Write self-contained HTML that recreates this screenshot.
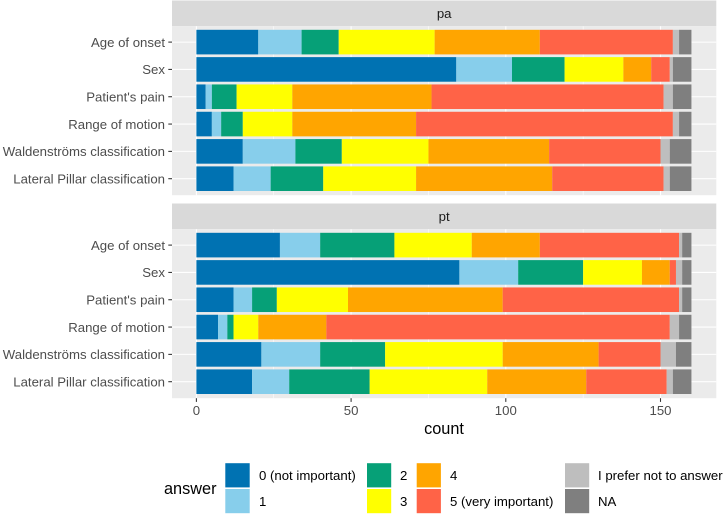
<!DOCTYPE html>
<html>
<head>
<meta charset="utf-8">
<title>Importance of answers by question</title>
<style>
html,body{margin:0;padding:0;background:#fff;width:724px;height:516px;overflow:hidden}
svg{display:block;font-family:"Liberation Sans",Arial,sans-serif}
</style>
</head>
<body>
<svg id="chart" width="724" height="516" viewBox="0 0 724 516" xmlns="http://www.w3.org/2000/svg">
  <g id="plot"></g>
  <text x="444" y="434" font-size="16.3" text-anchor="middle" fill="#000">count</text>
  <g>
    <text x="164" y="494" font-size="16.3" fill="#000">answer</text>
    <g id="legend-items">
      <rect x="225.3" y="463.2" width="24.4" height="24.2" fill="#0072B2"/>
      <text x="259" y="480" font-size="13.2" fill="#000">0 (not important)</text>
      <rect x="225.3" y="489" width="24.4" height="24.2" fill="#87CEEB"/>
      <text x="259" y="506" font-size="13.2" fill="#000">1</text>
      <rect x="367" y="463.2" width="24.2" height="24.2" fill="#06A077"/>
      <text x="400" y="480" font-size="13.2" fill="#000">2</text>
      <rect x="367" y="489" width="24.2" height="24.2" fill="#FFFF00"/>
      <text x="400" y="506" font-size="13.2" fill="#000">3</text>
      <rect x="416.7" y="463.2" width="24.2" height="24.2" fill="#FFA500"/>
      <text x="450" y="480" font-size="13.2" fill="#000">4</text>
      <rect x="416.7" y="489" width="24.2" height="24.2" fill="#FF6347"/>
      <text x="450" y="506" font-size="13.2" fill="#000">5 (very important)</text>
      <rect x="565" y="463.2" width="24.2" height="24.2" fill="#BEBEBE"/>
      <text x="598" y="480" font-size="13.2" fill="#000">I prefer not to answer</text>
      <rect x="565" y="489" width="24.2" height="24.2" fill="#7F7F7F"/>
      <text x="598" y="506" font-size="13.2" fill="#000">NA</text>
    </g>
  </g>
</svg>
<script>
var categories = ["Age of onset", "Sex", "Patient's pain", "Range of motion", "Waldenströms classification", "Lateral Pillar classification"];
var answers = ["0 (not important)", "1", "2", "3", "4", "5 (very important)", "I prefer not to answer", "NA"];
var answerColors = ["#0072B2", "#87CEEB", "#06A077", "#FFFF00", "#FFA500", "#FF6347", "#BEBEBE", "#7F7F7F"];
var facetNames = ["pa", "pt"];
var xTicks = [0, 50, 100, 150];
var xMinorTicks = [25, 75, 125];
var paCounts = [
  [20, 14, 12, 31, 34, 43, 2, 4],
  [84, 18, 17, 19, 9, 6, 1, 6],
  [3, 2, 8, 18, 45, 75, 3, 6],
  [5, 3, 7, 16, 40, 83, 2, 4],
  [15, 17, 15, 28, 39, 36, 3, 7],
  [12, 12, 17, 30, 44, 36, 2, 7]
];
var ptCounts = [
  [27, 13, 24, 25, 22, 45, 1, 3],
  [85, 19, 21, 19, 9, 2, 2, 3],
  [12, 6, 8, 23, 50, 57, 1, 3],
  [7, 3, 2, 8, 22, 111, 3, 4],
  [21, 19, 21, 38, 31, 20, 5, 5],
  [18, 12, 26, 38, 32, 26, 2, 6]
];
var facetCounts = [paCounts, ptCounts];

var SVGNS = "http://www.w3.org/2000/svg";
var plot = document.getElementById("plot");
var PANEL_LEFT = 172;
var PANEL_RIGHT = 716.3;
var STRIP_H = 25.7;
var PANEL_H = 169;
var FACET_STEP = 203;
var STRIP_TOP = 0.5;
var ROW_STEP = 27.32;
var BAR_H = 24.6;

function xScale(v) { return 196.4 + v * 3.094; }
function panelTop(f) { return STRIP_TOP + STRIP_H + f * FACET_STEP; }
function yScale(f, i) { return panelTop(f) + 15.9 + i * ROW_STEP; }

function make(tag, attrs, parent) {
  var el = document.createElementNS(SVGNS, tag);
  for (var k in attrs) { el.setAttribute(k, attrs[k]); }
  parent.appendChild(el);
  return el;
}

facetNames.forEach(function (name, f) {
  var top = panelTop(f);
  var bottom = top + PANEL_H;

  var strip = make("rect", {x: PANEL_LEFT, y: top - STRIP_H, width: PANEL_RIGHT - PANEL_LEFT, height: STRIP_H, fill: "#D9D9D9"}, plot);
  
  

  var stripText = make("text", {x: (PANEL_LEFT + PANEL_RIGHT) / 2, y: top - 8.4, "font-size": 13.2, "text-anchor": "middle", fill: "#1A1A1A"}, plot);
  stripText.textContent = name;
  
  

  var panel = make("rect", {x: PANEL_LEFT, y: top, width: PANEL_RIGHT - PANEL_LEFT, height: PANEL_H, fill: "#EBEBEB"}, plot);
  
  

  xMinorTicks.forEach(function (t) {
    var g = make("line", {x1: xScale(t), x2: xScale(t), y1: top, y2: bottom, stroke: "#fff", "stroke-width": 0.55}, plot);
    
    
  });
  xTicks.forEach(function (t) {
    var g = make("line", {x1: xScale(t), x2: xScale(t), y1: top, y2: bottom, stroke: "#fff", "stroke-width": 1.07}, plot);
    
    
  });

  categories.forEach(function (cat, i) {
    var y = yScale(f, i);
    var g = make("line", {x1: PANEL_LEFT, x2: PANEL_RIGHT, y1: y, y2: y, stroke: "#fff", "stroke-width": 1.07}, plot);
    
    

    var tick = make("line", {x1: PANEL_LEFT - 3.7, x2: PANEL_LEFT, y1: y, y2: y, stroke: "#333", "stroke-width": 1.07}, plot);
    
    

    var label = make("text", {x: PANEL_LEFT - 7, y: y + 4.7, "font-size": 13.2, "text-anchor": "end", fill: "#4D4D4D"}, plot);
    label.textContent = cat;
    
    
  });

  facetCounts[f].forEach(function (row, i) {
    var cum = 0;
    row.forEach(function (c, a) {
      var bar = make("rect", {x: xScale(cum), y: yScale(f, i) - BAR_H / 2, width: xScale(cum + c) - xScale(cum), height: BAR_H, fill: answerColors[a]}, plot);
      
      
      cum += c;
    });
  });
});

xTicks.forEach(function (t) {
  var base = panelTop(1) + PANEL_H;
  var tick = make("line", {x1: xScale(t), x2: xScale(t), y1: base, y2: base + 3.7, stroke: "#333", "stroke-width": 1.07}, plot);
  
  

  var label = make("text", {x: xScale(t), y: base + 16.6, "font-size": 13.2, "text-anchor": "middle", fill: "#4D4D4D"}, plot);
  label.textContent = String(t);
  
  
});
</script>
</body>
</html>
